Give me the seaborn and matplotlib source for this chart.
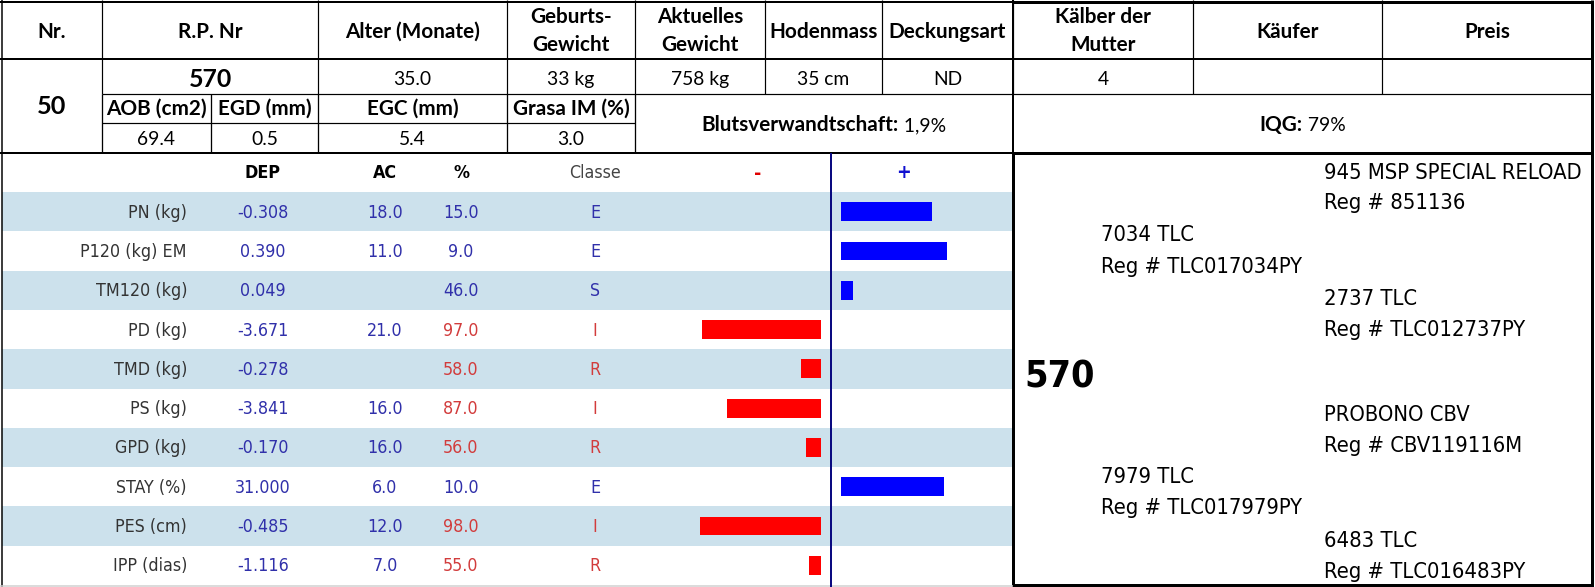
import os
import matplotlib
matplotlib.use("Agg")
import matplotlib.pyplot as plt
from matplotlib import font_manager as fm
from matplotlib.patches import Rectangle
import seaborn as sns

# ---------------- data ----------------
top_headers = ['Nr.', 'R.P. Nr', 'Alter (Monate)', 'Geburts-\nGewicht', 'Aktuelles\nGewicht',
               'Hodenmass', 'Deckungsart', 'Kälber der\nMutter', 'Käufer', 'Preis']
top_values = ['', '570', '35.0', '33 kg', '758 kg', '35 cm', 'ND', '4', '', '']
lot_number = '50'
sub_headers = ['AOB (cm2)', 'EGD (mm)', 'EGC (mm)', 'Grasa IM (%)']
sub_values = ['69.4', '0.5', '5.4', '3.0']
blut_label, blut_value = 'Blutsverwandtschaft:', ' 1,9%'
iqg_label, iqg_value = 'IQG:', ' 79%'

traits = ['PN (kg)', 'P120 (kg) EM', 'TM120 (kg)', 'PD (kg)', 'TMD (kg)', 'PS (kg)',
          'GPD (kg)', 'STAY (%)', 'PES (cm)', 'IPP (dias)']
dep = [-0.308, 0.390, 0.049, -3.671, -0.278, -3.841, -0.170, 31.000, -0.485, -1.116]
ac = [18.0, 11.0, None, 21.0, None, 16.0, 16.0, 6.0, 12.0, 7.0]
pct = [15.0, 9.0, 46.0, 97.0, 58.0, 87.0, 56.0, 10.0, 98.0, 55.0]
classe = ['E', 'E', 'S', 'I', 'R', 'I', 'R', 'E', 'I', 'R']
bar_values = [35.7, 41.6, 4.7, -46.7, -7.8, -36.9, -5.9, 40.4, -47.5, -4.7]
panel_headers = ['DEP', 'AC', '%', 'Classe', '-', '+']

pedigree_subject = '570'
pedigree_lines = [
    ('945 MSP SPECIAL RELOAD', 3), ('Reg # 851136', 3),
    ('7034 TLC', 2), ('Reg # TLC017034PY', 2),
    ('2737 TLC', 3), ('Reg # TLC012737PY', 3),
    ('PROBONO CBV', 3), ('Reg # CBV119116M', 3),
    ('7979 TLC', 2), ('Reg # TLC017979PY', 2),
    ('6483 TLC', 3), ('Reg # TLC016483PY', 3),
]

# ---------------- fonts ----------------
sns.set_style('white')
files = [f.fname for f in fm.fontManager.ttflist]


def find_file(patterns):
    for p in patterns:
        for f in files:
            if os.path.basename(f).lower().startswith(p.lower()):
                return f
    return None


narrow_reg = find_file(['LiberationSansNarrow-Regular', 'DejaVuSansCondensed.',
                        'RobotoCondensed-Regular', 'Roboto-Regular', 'DejaVuSans.'])
narrow_bold = find_file(['LiberationSansNarrow-Bold.', 'DejaVuSansCondensed-Bold.',
                         'RobotoCondensed-Bold', 'Roboto-Bold', 'DejaVuSans-Bold.'])


def has_font(name):
    try:
        fm.findfont(fm.FontProperties(family=name), fallback_to_default=False)
        return True
    except Exception:
        return False


HEAD = 'Lato' if has_font('Lato') else 'DejaVu Sans'
plt.rcParams['font.family'] = [HEAD, 'DejaVu Sans']


def fp_narrow(size, bold=False):
    f = narrow_bold if bold else narrow_reg
    if f:
        return fm.FontProperties(fname=f, size=size)
    return fm.FontProperties(family='DejaVu Sans', size=size,
                             weight='bold' if bold else 'normal', stretch='condensed')


def fp_head(size, bold=False):
    return fm.FontProperties(family=[HEAD, 'DejaVu Sans'], size=size,
                             weight='bold' if bold else 'normal')


BLUE_TXT = '#3030AA'
RED_TXT = '#D23C3C'
STRIPE = '#CCE1EC'
class_color = {'E': BLUE_TXT, 'S': BLUE_TXT, 'R': RED_TXT, 'I': RED_TXT}

W, H = 1595, 587
fig = plt.figure(figsize=(W / 100, H / 100), dpi=100)
ax = fig.add_axes([0, 0, 1, 1])
ax.set_xlim(0, W)
ax.set_ylim(H, 0)
ax.axis('off')
renderer = fig.canvas.get_renderer()

PX = 0.72  # points per pixel


def calibrate(sample, target_px, fpfunc, bold, base=20):
    t = ax.text(0, 0, sample, fontproperties=fpfunc(base, bold))
    w = t.get_window_extent(renderer).width
    t.remove()
    return base * target_px / w


S_HEAD = min(calibrate('Alter (Monate)', 135, fp_head, True), 15)
S_VAL = min(calibrate('35.0', 38, fp_head, False), 14)
S_PANEL = calibrate('P120 (kg) EM', 87, fp_narrow, False) * 1.22
S_PED = calibrate('945 MSP SPECIAL RELOAD', 251, fp_narrow, False) * 1.03
S_SUBJ = calibrate('570', 63, fp_narrow, True) * 1.12


def hline(y, x0, x1, w=1.0, c='black'):
    ax.plot([x0, x1], [y, y], color=c, lw=w * PX, solid_capstyle='butt', zorder=5)


def vline(x, y0, y1, w=1.0, c='black'):
    ax.plot([x, x], [y0, y1], color=c, lw=w * PX, solid_capstyle='butt', zorder=5)


def txt(x, y, s, fp, color='black', ha='center'):
    return ax.text(x, y, s, fontproperties=fp, color=color, ha=ha,
                   va='baseline', zorder=6)


# ---------------- top table ----------------
cols = [1, 102, 318, 507, 635, 765, 882, 1013, 1193, 1382, 1592]
centers = [(cols[i] + cols[i + 1]) / 2 for i in range(len(cols) - 1)]

for i, h in enumerate(top_headers):
    parts = h.split('\n')
    if len(parts) == 1:
        txt(centers[i], 38, parts[0], fp_head(S_HEAD, True))
    else:
        txt(centers[i], 23, parts[0], fp_head(S_HEAD, True))
        txt(centers[i], 51, parts[1], fp_head(S_HEAD, True))

for i, v in enumerate(top_values):
    if not v:
        continue
    if i == 1:
        txt(centers[i], 87, v, fp_head(S_HEAD * 1.2, True))
    else:
        txt(centers[i], 85, v, fp_head(S_VAL))

txt(centers[0], 114, lot_number, fp_head(S_HEAD * 1.22, True))

sub_cols = [102, 211, 318, 507, 635]
sub_centers = [(sub_cols[i] + sub_cols[i + 1]) / 2 for i in range(4)]
for i, (h, v) in enumerate(zip(sub_headers, sub_values)):
    txt(sub_centers[i], 115, h, fp_head(S_HEAD, True))
    txt(sub_centers[i], 145, v, fp_head(S_VAL))


def two_part(cx, y, bold, reg):
    t1 = txt(0, y, bold, fp_head(S_HEAD, True), ha='left')
    t2 = txt(0, y, reg, fp_head(S_VAL), ha='left')
    w1 = t1.get_window_extent(renderer).width
    w2 = t2.get_window_extent(renderer).width
    x0 = cx - (w1 + w2) / 2
    t1.set_x(x0)
    t2.set_x(x0 + w1)


two_part((635 + 1013) / 2, 131, blut_label, blut_value)
two_part((1013 + 1592) / 2, 131, iqg_label, iqg_value)

# grid lines of the top table
hline(1.5, 0, 1593, 2)
hline(59, 0, 1593, 2)
hline(94, 102, 1593, 1.2)
hline(123, 102, 635, 1.2)
hline(152.5, 0, 1593, 2)
for x in cols[1:-1]:
    vline(x, 0, 94, 1.2)
for x in [102, 211, 318, 507, 635]:
    vline(x, 94, 152, 1.3)
vline(1013, 0, 153, 2)
vline(1592, 0, 153, 3)
vline(1.5, 0, H, 1.5)
hline(1.5, 1013, 1593, 3)
hline(152.5, 1013, 1593, 3)

# ---------------- lower-left panel ----------------
ROW_TOP, ROW_H = 192, 39.3
for i in range(len(traits)):
    if i % 2 == 0:
        ax.add_patch(Rectangle((1.5, ROW_TOP + i * ROW_H), 1013 - 1.5, ROW_H,
                               facecolor=STRIPE, edgecolor='none', zorder=1))

hline(586, 0, 1013, 1.5, '#D0D0D0')
vline(831, 153, H, 2, '#0A0A80')

hx = [263, 385, 461, 595, 758, 904]
txt(hx[0], 178, panel_headers[0], fp_narrow(S_PANEL, True))
txt(hx[1], 178, panel_headers[1], fp_narrow(S_PANEL, True))
txt(hx[2], 178, panel_headers[2], fp_narrow(S_PANEL, True))
txt(hx[3], 178, panel_headers[3], fp_narrow(S_PANEL), color='#444444')
txt(hx[4], 179, panel_headers[4], fp_narrow(S_PANEL * 1.1, True), color='#E00000')
txt(hx[5], 178, panel_headers[5], fp_narrow(S_PANEL * 1.1, True), color='#1010D0')

for i, t in enumerate(traits):
    yb = ROW_TOP + (i + 0.5) * ROW_H + 6
    txt(187, yb, t, fp_narrow(S_PANEL), color='#333333', ha='right')
    txt(hx[0], yb, f'{dep[i]:.3f}', fp_narrow(S_PANEL), color=BLUE_TXT)
    if ac[i] is not None:
        txt(hx[1], yb, f'{ac[i]:.1f}', fp_narrow(S_PANEL), color=BLUE_TXT)
    c = class_color[classe[i]]
    txt(hx[2], yb, f'{pct[i]:.1f}', fp_narrow(S_PANEL), color=c)
    txt(hx[3], yb, classe[i], fp_narrow(S_PANEL), color=c)

# ---------------- bars (seaborn) ----------------
SCALE = 2.55  # px per unit
bar_colors = ['#0000FF' if v > 0 else '#FF0000' for v in bar_values]


def add_px_axes(x0, y0, x1, y1):
    return fig.add_axes([x0 / W, 1 - y1 / H, (x1 - x0) / W, (y1 - y0) / H])


y_bot = ROW_TOP + len(traits) * ROW_H
ax_neg = add_px_axes(821 - 50 * SCALE, ROW_TOP, 821, y_bot)
ax_pos = add_px_axes(841, ROW_TOP, 841 + 50 * SCALE, y_bot)
for a, lim in [(ax_neg, (-50, 0)), (ax_pos, (0, 50))]:
    sns.barplot(x=bar_values, y=traits, hue=traits, palette=bar_colors, orient='h',
                width=0.48, legend=False, saturation=1, linewidth=0, ax=a, order=traits)
    a.set_xlim(*lim)
    a.set_ylim(len(traits) - 0.5, -0.5)
    a.axis('off')
    a.patch.set_alpha(0)

# ---------------- pedigree ----------------
ax.add_patch(Rectangle((1013, 153), 1592 - 1013, 585 - 153, facecolor='white',
                       edgecolor='black', lw=3 * PX, zorder=4))
txt(1024, 387, pedigree_subject, fp_narrow(S_SUBJ, True), ha='left')
ped_x = {2: 1101, 3: 1324}
ped_base = [179, 209, 241, 273, 305, 336, 421, 452, 483, 514, 547, 578]
for (s, col), yb in zip(pedigree_lines, ped_base):
    txt(ped_x[col], yb, s, fp_narrow(S_PED), ha='left')

fig.savefig('out.png', dpi=100)
